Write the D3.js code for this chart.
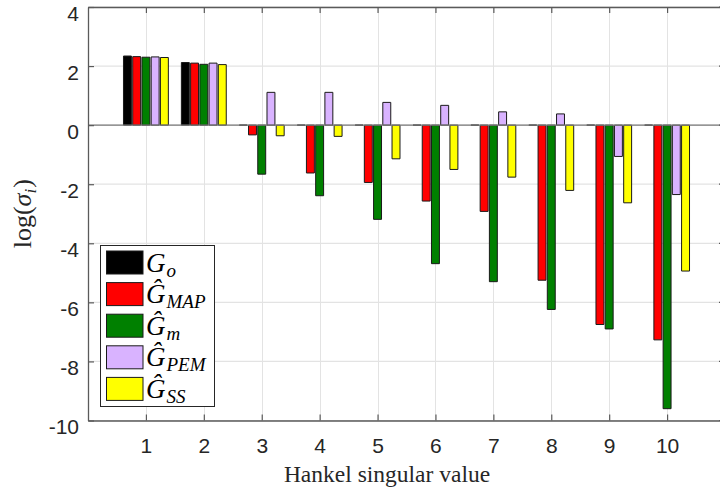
<!DOCTYPE html>
<html>
<head>
<meta charset="utf-8">
<script src="https://cdn.jsdelivr.net/npm/d3@7"></script>
<style>
  html, body { margin: 0; padding: 0; background: #fff; overflow: hidden; }
  svg { display: block; }
</style>
</head>
<body>
<svg id="chart" width="720" height="492"></svg>
<script>
// Hankel singular values (log scale) per model, one array per series
const categories = [1, 2, 3, 4, 5, 6, 7, 8, 9, 10];
const G_o   = [2.34, 2.12, 0, 0, 0, 0, 0, 0, 0, 0];
const G_MAP = [2.32, 2.10, -0.33, -1.62, -1.94, -2.57, -2.92, -5.25, -6.75, -7.27];
const G_m   = [2.30, 2.06, -1.66, -2.39, -3.19, -4.69, -5.30, -6.24, -6.90, -9.60];
const G_PEM = [2.31, 2.10, 1.11, 1.11, 0.77, 0.67, 0.45, 0.38, -1.06, -2.35];
const G_SS  = [2.29, 2.05, -0.36, -0.38, -1.14, -1.50, -1.76, -2.21, -2.63, -4.94];
const yTicks = [4, 2, 0, -2, -4, -6, -8, -10];

const seriesNames = ["Go", "GMAP", "Gm", "GPEM", "GSS"];
const seriesValues = [G_o, G_MAP, G_m, G_PEM, G_SS];
const seriesColors = ["#000000", "#ff0000", "#008000", "#d9b3ff", "#ffff00"];
// legend labels: base glyph + subscript
const legendLabels = [
  { base: "G", sub: "o" },
  { base: "\u011C", sub: "MAP" },
  { base: "\u011C", sub: "m" },
  { base: "\u011C", sub: "PEM" },
  { base: "\u011C", sub: "SS" }
];

const svg = d3.select("#chart");
const W = 720;
const plotL = 88, plotR = 725, plotT = 7, plotB = 420.5;

const x = d3.scaleLinear().domain([0, 11]).range([plotL, plotR]);
const y = d3.scaleLinear().domain([-10, 4]).range([plotB, plotT]);

// position of each series inside a group
const unit = x(1) - x(0);
const groupW = unit * 0.775;
const xs = d3.scaleBand().domain(seriesNames).range([-groupW / 2, groupW / 2]).paddingInner(0.14);

const mathFont = "'Liberation Serif', 'DejaVu Serif', serif";
const sansFont = "'Liberation Sans', Arial, sans-serif";
const fmt = d => String(d);

// grid
const grid = svg.append("g");
grid.selectAll("line.gv").data(categories).join("line").attr("class", "gv")
  .attr("x1", d => Math.round(x(d)) + 0.5).attr("x2", d => Math.round(x(d)) + 0.5)
  .attr("y1", plotT).attr("y2", plotB)
  .attr("stroke", "#e3e3e3").attr("stroke-width", 1);
grid.selectAll("line.gh").data(yTicks).join("line").attr("class", "gh")
  .attr("x1", plotL).attr("x2", W)
  .attr("y1", d => y(d)).attr("y2", d => y(d))
  .attr("stroke", "#e3e3e3").attr("stroke-width", 1.2);

// bars
const plot = svg.append("g");
seriesNames.forEach((name, si) => {
  plot.append("g").selectAll("path").data(categories.map((c, i) => ({ c, v: seriesValues[si][i] })))
    .join("path")
    .attr("d", d => {
      const x0 = x(d.c) + xs(name), x1 = x0 + xs.bandwidth();
      const y0 = y(0), y1 = y(d.v);
      return `M${x0},${y0}H${x1}V${y1}H${x0}Z`;
    })
    .attr("fill", seriesColors[si])
    .attr("stroke", "#1a1a1a")
    .attr("stroke-width", 1);
});

// bar baseline
svg.append("line")
  .attr("x1", plotL).attr("x2", W).attr("y1", y(0)).attr("y2", y(0))
  .attr("stroke", "#7a7a7a").attr("stroke-width", 1.4);

// axes (left and bottom with labels, top border with inward ticks)
const axisColor = "#5a5a5a";
const yAxis = d3.axisLeft(y).tickValues(yTicks).tickSizeInner(-6).tickSizeOuter(0).tickFormat(fmt);
const xAxis = d3.axisBottom(x).tickValues(categories).tickSizeInner(-6).tickSizeOuter(0).tickFormat(fmt);
const xTop = d3.axisTop(x).tickValues(categories).tickSizeInner(-6).tickSizeOuter(0).tickFormat("");

function styleAxis(g) {
  g.select(".domain").attr("stroke", axisColor).attr("stroke-width", 1.3);
  g.selectAll(".tick line").attr("stroke", axisColor).attr("stroke-width", 1.2);
  g.selectAll(".tick text").attr("fill", "#262626").attr("font-family", sansFont).attr("font-size", 21);
}

const gy = svg.append("g").attr("transform", `translate(${plotL},0)`).call(yAxis).call(styleAxis);
gy.selectAll(".tick text").attr("x", -9).attr("dy", "0.62em");
const gx = svg.append("g").attr("transform", `translate(0,${plotB})`).call(xAxis).call(styleAxis);
gx.selectAll(".tick text").attr("y", 17).attr("dy", "0.72em");
svg.append("g").attr("transform", `translate(0,${plotT})`).call(xTop).call(styleAxis);

// right-side tick stubs; the right border itself lies just past the page edge
svg.append("g").selectAll("line").data(yTicks).join("line")
  .attr("x1", plotR - 6).attr("x2", W)
  .attr("y1", d => y(d)).attr("y2", d => y(d))
  .attr("stroke", axisColor).attr("stroke-width", 1.2);

// axis titles
svg.append("text")
  .attr("x", 387).attr("y", 481.5)
  .attr("text-anchor", "middle")
  .attr("font-family", mathFont).attr("font-size", 23.5).attr("fill", "#262626")
  .text("Hankel singular value");

const yl = svg.append("text")
  .attr("transform", `translate(31,${(plotT + plotB) / 2}) rotate(-90)`)
  .attr("text-anchor", "middle")
  .attr("font-family", mathFont).attr("font-size", 26).attr("fill", "#262626");
yl.append("tspan").text("log(");
yl.append("tspan").attr("font-style", "italic").text("\u03C3");
yl.append("tspan").attr("font-style", "italic").attr("font-size", 17).attr("dy", 5).text("i");
yl.append("tspan").attr("dy", -5).attr("dx", 1).text(")");

// legend
const lg = svg.append("g");
lg.append("rect")
  .attr("x", 100.5).attr("y", 245.5).attr("width", 114).attr("height", 161)
  .attr("fill", "#fff").attr("stroke", "#262626").attr("stroke-width", 1);
const rowY = i => 262.5 + i * 31.6;
legendLabels.forEach((lab, i) => {
  lg.append("rect")
    .attr("x", 106.5).attr("y", rowY(i) - 11.5).attr("width", 36.5).attr("height", 23)
    .attr("fill", seriesColors[i]).attr("stroke", "#1a1a1a").attr("stroke-width", 1);
  const t = lg.append("text")
    .attr("x", 146).attr("y", rowY(i) + 9)
    .attr("font-family", mathFont).attr("font-size", 27).attr("fill", "#000");
  t.append("tspan").attr("font-style", "italic").text(lab.base);
  t.append("tspan").attr("font-style", "italic").attr("font-size", 19).attr("dy", 5).attr("dx", 1).text(lab.sub);
});
</script>
</body>
</html>
